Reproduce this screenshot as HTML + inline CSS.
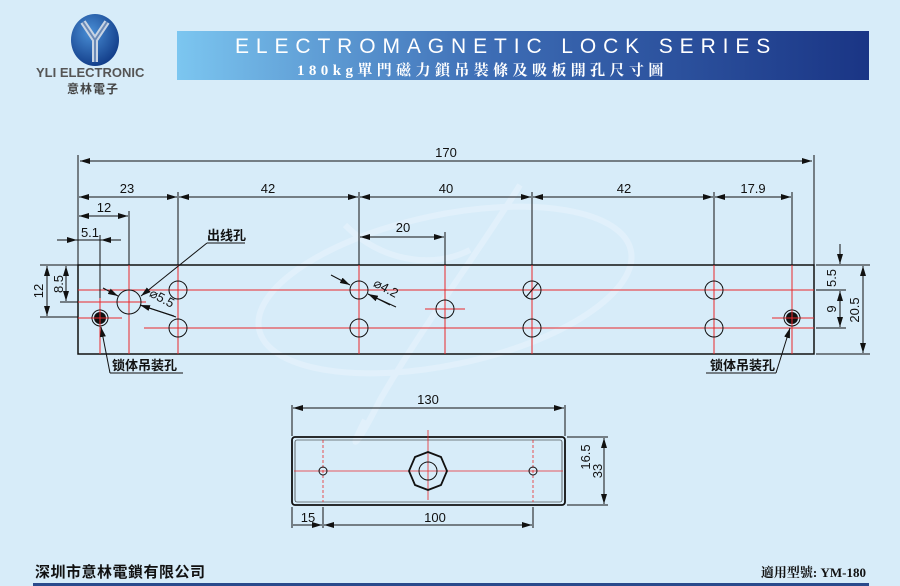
<!DOCTYPE html>
<html><head><meta charset="utf-8"><style>
html,body{margin:0;padding:0;background:#d7ecf9;}
svg{display:block;}
text{font-family:"Liberation Sans","Noto Sans CJK SC",sans-serif;}
.cj{font-family:"Liberation Serif","Noto Serif CJK SC",serif;font-weight:bold;}
</style></head><body>
<svg width="900" height="586" viewBox="0 0 900 586" xmlns="http://www.w3.org/2000/svg">
<defs>
<linearGradient id="bn" x1="0" x2="1" y1="0" y2="0">
<stop offset="0" stop-color="#7cc6f0"/><stop offset="0.45" stop-color="#3d6db5"/><stop offset="1" stop-color="#1a3585"/>
</linearGradient>
<radialGradient id="lg" cx="0.4" cy="0.35" r="0.7">
<stop offset="0" stop-color="#4a8fd6"/><stop offset="1" stop-color="#103a86"/>
</radialGradient>
<marker id="a" viewBox="0 0 10 6" refX="10" refY="3" markerWidth="10" markerHeight="6" orient="auto-start-reverse" markerUnits="userSpaceOnUse"><path d="M0,0L10,3L0,6z" fill="#111"/></marker>
</defs>
<rect width="900" height="586" fill="#d7ecf9"/>
<!-- watermark -->
<g fill="none" stroke="#e6f3fc" stroke-width="6" opacity="0.7">
<ellipse cx="445" cy="290" rx="190" ry="75" transform="rotate(-12 445 290)"/>
<path d="M520 185 C480 250 420 330 380 400 C360 440 345 460 365 420"/>
<path d="M345 225 C380 260 430 270 470 250"/>
</g>
<!-- header -->
<ellipse cx="95" cy="40" rx="24" ry="26" fill="url(#lg)"/>
<path d="M83 22 L95 40 L107 22 M95 40 V62" stroke="#c8d4e4" stroke-width="6" fill="none"/>
<path d="M83 22 L95 40 L107 22 M95 40 V62" stroke="#6a8ab8" stroke-width="2" fill="none"/>
<text x="36" y="77" font-size="13" fill="#555" font-weight="bold">YLI ELECTRONIC</text>
<text x="67" y="93" font-size="12" fill="#444" font-weight="bold" letter-spacing="1">意林電子</text>
<rect x="177" y="31" width="692" height="49" fill="url(#bn)"/>
<text x="235" y="53" font-size="21" fill="#fff" letter-spacing="6.9">ELECTROMAGNETIC LOCK SERIES</text>
<text x="297" y="75" font-size="15" fill="#fff" class="cj" letter-spacing="4.4">180kg單門磁力鎖吊裝條及吸板開孔尺寸圖</text>

<!-- main drawing -->
<g stroke="#111" stroke-width="1" fill="none">
<rect x="78" y="265" width="736" height="89" stroke-width="1.5"/>
</g>
<!-- red center lines -->
<g stroke="#e8282a" stroke-width="1">
<line x1="78" y1="290" x2="814" y2="290"/>
<line x1="144" y1="328" x2="814" y2="328"/>
<line x1="78" y1="302" x2="146" y2="302"/>
<line x1="78" y1="318" x2="122" y2="318"/>
<line x1="425" y1="309" x2="465" y2="309"/>
<line x1="772" y1="318" x2="814" y2="318"/>
<line x1="100" y1="297" x2="100" y2="354"/>
<line x1="129" y1="265" x2="129" y2="354"/>
<line x1="178" y1="265" x2="178" y2="354"/>
<line x1="359" y1="265" x2="359" y2="354"/>
<line x1="445" y1="265" x2="445" y2="354"/>
<line x1="532" y1="265" x2="532" y2="354"/>
<line x1="714" y1="265" x2="714" y2="354"/>
<line x1="792" y1="265" x2="792" y2="354"/>
</g>
<!-- holes -->
<g stroke="#111" stroke-width="1" fill="none">
<circle cx="129" cy="302" r="12"/>
<circle cx="178" cy="290" r="9"/><circle cx="178" cy="328" r="9"/>
<circle cx="359" cy="290" r="9"/><circle cx="359" cy="328" r="9"/>
<circle cx="445" cy="309" r="9"/>
<circle cx="532" cy="290" r="9"/><circle cx="532" cy="328" r="9"/>
<line x1="526" y1="297" x2="538" y2="283"/>
<circle cx="714" cy="290" r="9"/><circle cx="714" cy="328" r="9"/>
<circle cx="100" cy="318" r="8"/><circle cx="792" cy="318" r="8"/>
</g>
<circle cx="100" cy="318" r="6" fill="#111"/><circle cx="792" cy="318" r="6" fill="#111"/>
<g stroke="#e8282a"><line x1="92" y1="318" x2="108" y2="318"/><line x1="100" y1="310" x2="100" y2="326"/><line x1="784" y1="318" x2="800" y2="318"/><line x1="792" y1="310" x2="792" y2="326"/></g>

<!-- dimensions -->
<g stroke="#111" stroke-width="1" fill="none">
<line x1="78" y1="155" x2="78" y2="265"/><line x1="814" y1="155" x2="814" y2="265"/>
<line x1="80" y1="161" x2="812" y2="161" marker-start="url(#a)" marker-end="url(#a)"/>
<line x1="178" y1="192" x2="178" y2="265"/><line x1="359" y1="192" x2="359" y2="265"/>
<line x1="532" y1="192" x2="532" y2="265"/><line x1="714" y1="192" x2="714" y2="265"/>
<line x1="792" y1="192" x2="792" y2="265"/>
<line x1="79" y1="197" x2="177" y2="197" marker-start="url(#a)" marker-end="url(#a)"/>
<line x1="179" y1="197" x2="358" y2="197" marker-start="url(#a)" marker-end="url(#a)"/>
<line x1="360" y1="197" x2="531" y2="197" marker-start="url(#a)" marker-end="url(#a)"/>
<line x1="533" y1="197" x2="713" y2="197" marker-start="url(#a)" marker-end="url(#a)"/>
<line x1="715" y1="197" x2="791" y2="197" marker-start="url(#a)" marker-end="url(#a)"/>
<line x1="129" y1="211" x2="129" y2="265"/>
<line x1="79" y1="216" x2="128" y2="216" marker-start="url(#a)" marker-end="url(#a)"/>
<line x1="100" y1="235" x2="100" y2="298"/>
<line x1="57" y1="240" x2="77" y2="240" marker-end="url(#a)"/>
<line x1="121" y1="240" x2="101" y2="240" marker-end="url(#a)"/>
<line x1="77" y1="240" x2="101" y2="240"/>
<line x1="445" y1="232" x2="445" y2="265"/>
<line x1="360" y1="237" x2="444" y2="237" marker-start="url(#a)" marker-end="url(#a)"/>
<line x1="40" y1="265" x2="78" y2="265"/>
<line x1="40" y1="317" x2="78" y2="317"/><line x1="60" y1="302" x2="78" y2="302"/>
<line x1="47" y1="266" x2="47" y2="316" marker-start="url(#a)" marker-end="url(#a)"/>
<line x1="66" y1="266" x2="66" y2="301" marker-start="url(#a)" marker-end="url(#a)"/>
<line x1="816" y1="265" x2="870" y2="265"/><line x1="816" y1="354" x2="870" y2="354"/>
<line x1="816" y1="290" x2="846" y2="290"/><line x1="816" y1="328" x2="846" y2="328"/>
<line x1="840" y1="244" x2="840" y2="264" marker-end="url(#a)"/>
<line x1="840" y1="291" x2="840" y2="327" marker-start="url(#a)" marker-end="url(#a)"/>
<line x1="863" y1="266" x2="863" y2="353" marker-start="url(#a)" marker-end="url(#a)"/>
<line x1="207" y1="243" x2="245" y2="243"/>
<line x1="207" y1="243" x2="141" y2="296" marker-end="url(#a)"/>
<line x1="103" y1="288" x2="118" y2="296" marker-end="url(#a)"/>
<line x1="174" y1="316" x2="140" y2="305" marker-end="url(#a)"/>
<line x1="140" y1="305" x2="176" y2="317"/>
<line x1="331" y1="275" x2="350" y2="285" marker-end="url(#a)"/>
<line x1="390" y1="305" x2="368" y2="294" marker-end="url(#a)"/>
<line x1="368" y1="294" x2="396" y2="307"/>
<line x1="110" y1="373" x2="101" y2="327" marker-end="url(#a)"/>
<line x1="110" y1="373" x2="183" y2="373"/>
<line x1="706" y1="373" x2="776" y2="373"/>
<line x1="776" y1="373" x2="790" y2="328" marker-end="url(#a)"/>
</g>
<g font-size="13" fill="#111" text-anchor="middle">
<text x="446" y="157">170</text>
<text x="127" y="193">23</text><text x="268" y="193">42</text>
<text x="446" y="193">40</text><text x="624" y="193">42</text><text x="753" y="193">17.9</text>
<text x="104" y="212">12</text><text x="90" y="237">5.1</text><text x="403" y="232">20</text>
<text transform="translate(43 291) rotate(-90)">12</text>
<text transform="translate(63 284) rotate(-90)">8.5</text>
<text transform="translate(836 278) rotate(-90)">5.5</text>
<text transform="translate(836 309) rotate(-90)">9</text>
<text transform="translate(859 310) rotate(-90)">20.5</text>
<text transform="translate(160 302) rotate(28)">⌀5.5</text>
<text transform="translate(384 292) rotate(28)">⌀4.2</text>
</g>
<g font-size="13" fill="#111" class="cj">
<text x="207" y="240">出线孔</text>
<text x="112" y="370">锁体吊装孔</text>
<text x="710" y="370">锁体吊装孔</text>
</g>

<!-- bottom plate -->
<rect x="292" y="437" width="273" height="68" rx="3" fill="none" stroke="#111" stroke-width="1.8"/>
<rect x="295" y="440" width="267" height="62" rx="2" fill="none" stroke="#111" stroke-width="0.6"/>
<g stroke="#e8282a" stroke-width="0.8">
<line x1="294" y1="471" x2="563" y2="471"/>
<line x1="428" y1="430" x2="428" y2="500"/>
<line x1="323" y1="440" x2="323" y2="502" stroke-dasharray="3 2"/>
<line x1="533" y1="440" x2="533" y2="502" stroke-dasharray="3 2"/>
</g>
<g stroke="#111" fill="none">
<circle cx="323" cy="471" r="4"/><circle cx="533" cy="471" r="4"/>
<polygon points="428,452 441,457 447,471 441,485 428,490 415,485 409,471 415,457" stroke-width="1.8"/>
<circle cx="428" cy="471" r="9"/>
<line x1="292" y1="405" x2="292" y2="436"/><line x1="565" y1="405" x2="565" y2="436"/>
<line x1="293" y1="408" x2="564" y2="408" marker-start="url(#a)" marker-end="url(#a)"/>
<line x1="292" y1="507" x2="292" y2="528"/><line x1="323" y1="507" x2="323" y2="528"/><line x1="533" y1="507" x2="533" y2="528"/>
<line x1="293" y1="525" x2="322" y2="525" marker-end="url(#a)"/>
<line x1="324" y1="525" x2="532" y2="525" marker-start="url(#a)" marker-end="url(#a)"/>
<line x1="567" y1="437" x2="608" y2="437"/><line x1="567" y1="505" x2="608" y2="505"/>
<line x1="604" y1="438" x2="604" y2="504" marker-start="url(#a)" marker-end="url(#a)"/>
</g>
<g font-size="13" fill="#111" text-anchor="middle">
<text x="428" y="404">130</text><text x="308" y="522">15</text><text x="435" y="522">100</text>
<text transform="translate(590 457) rotate(-90)">16.5</text>
<text transform="translate(602 471) rotate(-90)">33</text>
</g>

<!-- footer -->
<text x="35" y="577" font-size="15" font-weight="bold" fill="#111" letter-spacing="0.5">深圳市意林電鎖有限公司</text>
<text x="866" y="577" font-size="13" fill="#111" class="cj" text-anchor="end">適用型號:  YM-180</text>
<rect x="33" y="583" width="836" height="3" fill="#2a4a8c"/>
</svg>
</body></html>
